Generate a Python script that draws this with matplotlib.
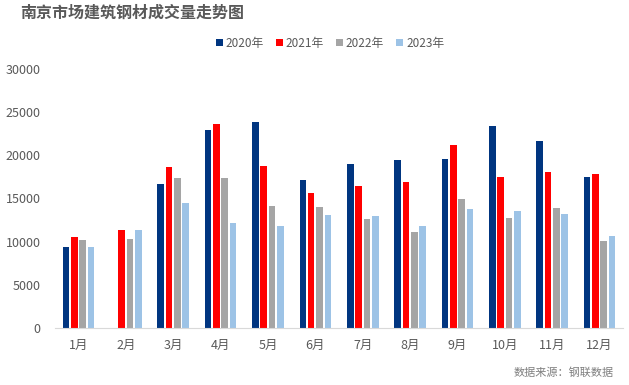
import numpy as np
import matplotlib
matplotlib.use("Agg")
import matplotlib.pyplot as plt

plt.rcParams['font.family'] = ['Noto Sans CJK SC', 'DejaVu Sans']

months = ['1月', '2月', '3月', '4月', '5月', '6月', '7月', '8月', '9月', '10月', '11月', '12月']
years = ['2020年', '2021年', '2022年', '2023年']
v2020 = [9370, np.nan, 16660, 22910, 23870, 17120, 18970, 19470, 19590, 23410, 21670, 17500]
v2021 = [10530, 11340, 18630, 23600, 18740, 15650, 16460, 16930, 21210, 17500, 18080, 17850]
v2022 = [10180, 10300, 17390, 17350, 14150, 14030, 12640, 11140, 14960, 12760, 13920, 10100]
v2023 = [9370, 11340, 14460, 12150, 11840, 13110, 12990, 11840, 13800, 13570, 13220, 10680]
colors = ['#003580', '#ff0000', '#a5a5a5', '#9dc3e6']

fig = plt.figure(figsize=(6.29, 3.85), dpi=100)
ax = fig.add_axes([0.087, 0.148, 0.904, 0.673])

x = np.arange(len(months))
pitch = 0.176
width = 0.14
for i, (vals, c, lab) in enumerate(zip([v2020, v2021, v2022, v2023], colors, years)):
    ax.bar(x + (i - 1.5) * pitch, vals, width, color=c, label=lab)

ax.set_xlim(-0.5, 11.5)
ax.set_ylim(0, 30000)
ax.set_yticks(np.arange(0, 30001, 5000))
ax.set_xticks(x)
ax.set_xticklabels(months)
for s in ['top', 'right', 'left']:
    ax.spines[s].set_visible(False)
ax.spines['bottom'].set_color('#d9d9d9')
ax.tick_params(axis='both', length=0, colors='#595959', labelsize=9)
ax.tick_params(axis='y', pad=10)
ax.tick_params(axis='x', pad=8)

ax.legend(loc='center', bbox_to_anchor=(0.484, 1.10), ncol=4, frameon=False,
          fontsize=8.5, handlelength=0.6, handleheight=0.6, handletextpad=0.25,
          columnspacing=1.0, labelcolor='#595959')

fig.text(0.032, 0.968, '南京市场建筑钢材成交量走势图', fontsize=11.5, fontweight='bold',
         color='#595959', va='center', ha='left')
fig.text(0.975, 0.033, '数据来源：钢联数据', fontsize=8, color='#7f7f7f',
         ha='right', va='center')

fig.savefig('out.png', dpi=100)
